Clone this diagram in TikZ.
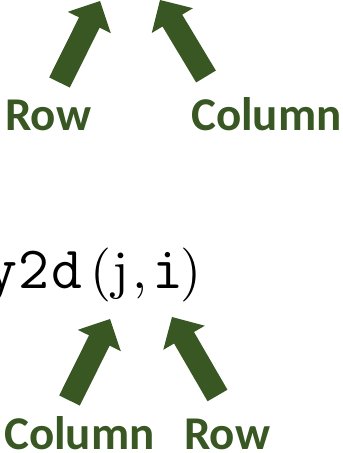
\documentclass[tikz,border=0pt]{standalone}
\usepackage{fontspec}
\newfontfamily\lblfont[BoldFont={Carlito Bold}]{Carlito}
\newfontfamily\lmrten{lmroman10-regular}[Extension=.otf]
\usetikzlibrary{calc}
\definecolor{arrowgreen}{HTML}{385723}
\newcommand{\ttc}[1]{\makebox[0pt]{\ttfamily\fontsize{60}{60}\selectfont #1}}
\newcommand{\rmc}[1]{\makebox[0pt]{\lmrten\fontsize{54}{58}\selectfont #1}}
\tikzset{
  lbl/.style={anchor=base west, inner sep=0pt, text=arrowgreen, font=\lblfont\bfseries\fontsize{47}{47}\selectfont},
  code/.style={anchor=base west, inner sep=0pt},
  blockarrow/.style={fill=arrowgreen, draw=none}
}
\newcommand{\blkarrow}[2]{%
  \fill[blockarrow]
    ($(#1)!11.5pt!90:(#2)$) --
    ($($(#2)!24pt!(#1)$)!11.5pt!90:(#2)$) --
    ($($(#2)!24pt!(#1)$)!24pt!90:(#2)$) --
    (#2) --
    ($($(#2)!24pt!(#1)$)!24pt!-90:(#2)$) --
    ($($(#2)!24pt!(#1)$)!11.5pt!-90:(#2)$) --
    ($(#1)!11.5pt!-90:(#2)$) -- cycle;}
\begin{document}
\begin{tikzpicture}[x=1pt,y=-1pt]
\useasboundingbox (0,0) rectangle (343,453);
% top labels
\node[lbl] (rowtop) at (5,130) {Row};
\node[lbl] (coltop) at (191,130) {Column};
% code text
\node[code] (code) at (2,288) {\ttc{y}\kern32pt\ttc{2}\kern32.5pt\ttc{d}\kern34.5pt\rmc{(}\kern19.5pt\rmc{j}\kern19.5pt\rmc{,}\kern27.5pt\ttc{i}\kern23.5pt\rmc{)}};
% bottom labels
\node[lbl] (colbot) at (4,449) {Column};
\node[lbl] (rowbot) at (184,449) {Row};
% arrow ends
\coordinate (tlA) at (59.5,82.5);  \coordinate (tlB) at (100,1);
\coordinate (trA) at (206,76.5);   \coordinate (trB) at (160,0);
\coordinate (blA) at (69.5,400.5); \coordinate (blB) at (110,319);
\coordinate (brA) at (217.5,395.5);\coordinate (brB) at (172,317);
\blkarrow{tlA}{tlB}
\blkarrow{trA}{trB}
\blkarrow{blA}{blB}
\blkarrow{brA}{brB}
\end{tikzpicture}
\end{document}
